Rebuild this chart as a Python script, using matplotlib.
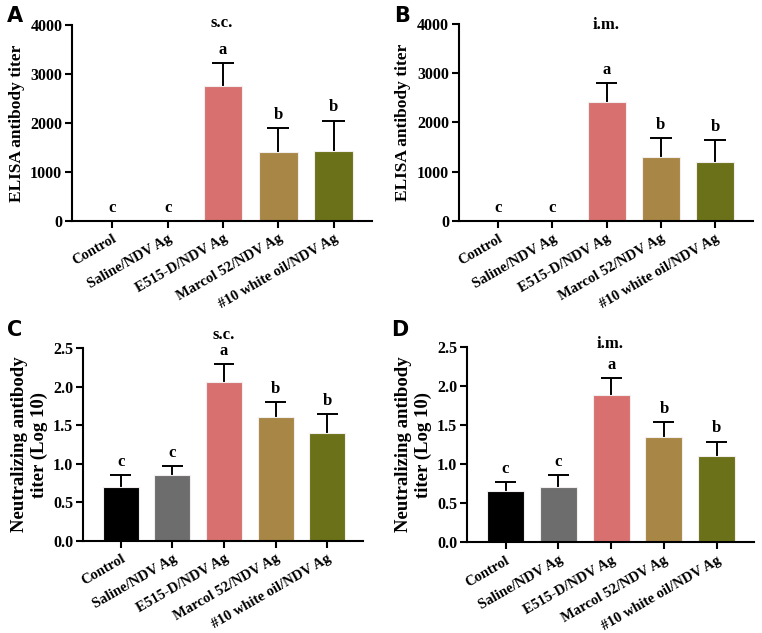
import matplotlib.pyplot as plt

groups = ["Control", "Saline/NDV Ag", "E515-D/NDV Ag", "Marcol 52/NDV Ag", "#10 white oil/NDV Ag"]
colors = ["#000000", "#6d6d6d", "#d87070", "#a88645", "#6b7119"]

elisa_sc = [0, 0, 2750, 1400, 1420]
elisa_sc_err = [0, 0, 470, 500, 630]
elisa_im = [0, 0, 2420, 1300, 1200]
elisa_im_err = [0, 0, 380, 380, 440]

neut_sc = [0.70, 0.85, 2.06, 1.61, 1.40]
neut_sc_err = [0.15, 0.12, 0.23, 0.19, 0.24]
neut_im = [0.66, 0.71, 1.88, 1.35, 1.11]
neut_im_err = [0.11, 0.15, 0.22, 0.19, 0.18]

letters = ["c", "c", "a", "b", "b"]

plt.rcParams["font.family"] = ["Liberation Serif", "DejaVu Serif"]
plt.rcParams["font.weight"] = "bold"

fig = plt.figure(figsize=(7.62, 6.33), dpi=100)

panels = [
    ("A", [0.0945, 0.651, 0.394, 0.3095], elisa_sc, elisa_sc_err, "s.c.", "ELISA antibody titer", 12.5,
     (0, 4000), [0, 1000, 2000, 3000, 4000], ["0", "1000", "2000", "3000", "4000"], 1.01),
    ("B", [0.602, 0.651, 0.386, 0.311], elisa_im, elisa_im_err, "i.m.", "ELISA antibody titer", 12.5,
     (0, 4000), [0, 1000, 2000, 3000, 4000], ["0", "1000", "2000", "3000", "4000"], 0.995),
    ("C", [0.109, 0.1453, 0.368, 0.3047], neut_sc, neut_sc_err, "s.c.", "Neutralizing antibody\ntiter (Log 10)", 13.5,
     (0, 2.5), [0, 0.5, 1.0, 1.5, 2.0, 2.5], ["0.0", "0.5", "1.0", "1.5", "2.0", "2.5"], 1.07),
    ("D", [0.613, 0.143, 0.376, 0.309], neut_im, neut_im_err, "i.m.", "Neutralizing antibody\ntiter (Log 10)", 13.5,
     (0, 2.5), [0, 0.5, 1.0, 1.5, 2.0, 2.5], ["0.0", "0.5", "1.0", "1.5", "2.0", "2.5"], 1.015),
]

for tag, rect, vals, errs, route, ylab, ylfs, ylim, yt, ytl, ty in panels:
    ax = fig.add_axes(rect)
    x = list(range(len(groups)))
    ax.bar(x, vals, width=0.7, color=colors, edgecolor="#f2eeee", linewidth=0.8, zorder=2)
    tops = [v + e for v, e in zip(vals, errs)]
    ax.vlines(x, vals, tops, color="black", linewidth=1.4, zorder=1)
    ax.hlines([t for t, e in zip(tops, errs) if e > 0],
              [i - 0.2 for i, e in zip(x, errs) if e > 0],
              [i + 0.2 for i, e in zip(x, errs) if e > 0],
              color="black", linewidth=1.4, zorder=1)
    span = ylim[1] - ylim[0]
    for i, t in enumerate(tops):
        ax.text(i, t + span * 0.047, letters[i], ha="center", va="baseline",
                fontsize=12, fontweight="bold")
    ax.set_xlim(-0.73, 4.7)
    ax.set_ylim(*ylim)
    ax.set_yticks(yt)
    ax.set_yticklabels(ytl)
    ax.set_xticks(x)
    ax.set_xticklabels(groups, rotation=30, ha="right", rotation_mode="anchor")
    for s in ["top", "right"]:
        ax.spines[s].set_visible(False)
    for s in ["left", "bottom"]:
        ax.spines[s].set_linewidth(1.5)
    ax.tick_params(axis="both", width=1.5, length=5, direction="out")
    ax.tick_params(axis="y", labelsize=11.5, pad=2)
    ax.tick_params(axis="x", labelsize=10.5, pad=3)
    for lab in ax.get_xticklabels() + ax.get_yticklabels():
        lab.set_fontweight("bold")
    ax.set_ylabel(ylab, fontsize=ylfs, fontweight="bold", labelpad=4)
    ax.text(0.5, ty, route, transform=ax.transAxes, ha="center", va="center",
            fontsize=12, fontweight="bold")
    fig.text(rect[0] - (0.085 if tag in "AB" else 0.1), 0.975 if tag in "AB" else 0.478, tag,
             fontsize=15, fontweight="bold", family="DejaVu Sans", va="center")

fig.savefig("out.png", dpi=100)
